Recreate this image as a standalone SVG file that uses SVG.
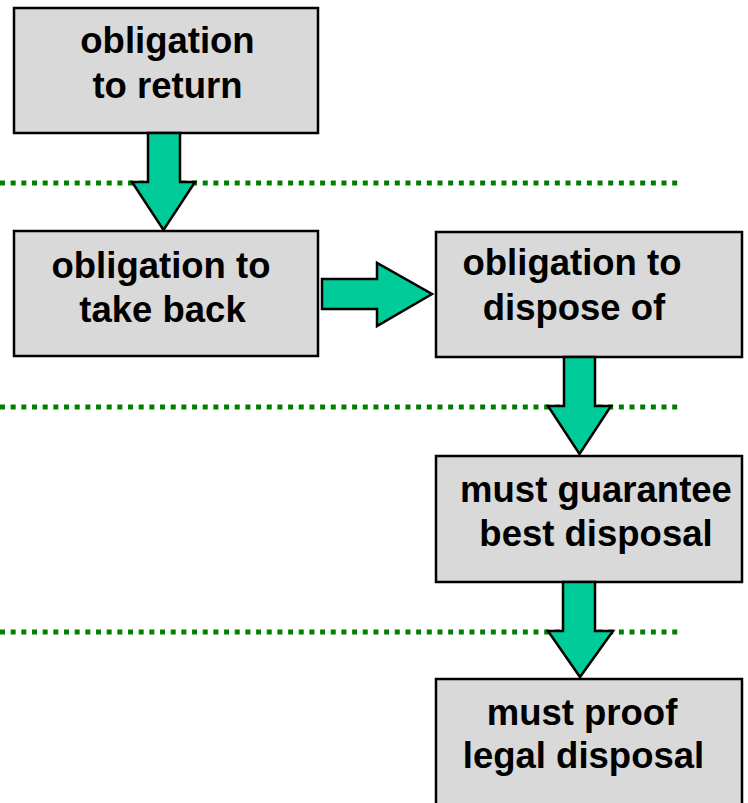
<svg xmlns="http://www.w3.org/2000/svg" width="748" height="803" viewBox="0 0 748 803">
<style>
.box{fill:#d9d9d9;stroke:#000;stroke-width:2.5}
.lbl{font-family:"Liberation Sans",Arial,sans-serif;font-weight:bold;font-size:36.5px;fill:#000;text-anchor:middle}
.dot{stroke:#008000;stroke-width:5;stroke-dasharray:5 5.67;fill:none}
.arr{fill:#00cc99;stroke:#000;stroke-width:2.5;stroke-linejoin:miter}
</style>
<rect width="748" height="803" fill="#fff"/>
<g id="separators">
<line class="dot" x1="0" y1="183" x2="680" y2="183"/>
<line class="dot" x1="0" y1="407" x2="680" y2="407"/>
<line class="dot" x1="0" y1="632" x2="680" y2="632"/>
</g>
<g id="n1"><rect class="box" x="14" y="8" width="304" height="125"/>
<text class="lbl" x="167.5" y="53">obligation</text><text class="lbl" x="167.5" y="98">to return</text></g>
<g id="n2"><rect class="box" x="14" y="231" width="304" height="125"/>
<text class="lbl" x="161" y="278">obligation to</text><text class="lbl" x="162.5" y="322">take back</text></g>
<g id="n3"><rect class="box" x="436" y="232" width="306" height="125"/>
<text class="lbl" x="572" y="275">obligation to</text><text class="lbl" x="574" y="320">dispose of</text></g>
<g id="n4"><rect class="box" x="436" y="456" width="306" height="126"/>
<text class="lbl" x="596" y="502">must guarantee</text><text class="lbl" x="596" y="546">best disposal</text></g>
<g id="n5"><rect class="box" x="436" y="679" width="306" height="130"/>
<text class="lbl" x="582" y="725">must proof</text><text class="lbl" x="583.5" y="768">legal disposal</text></g>
<g id="connectors">
<polygon class="arr" points="148,133 180,133 180,182 195,182 163.5,230 132,182 148,182"/>
<polygon class="arr" points="322,279 377,279 377,263 432,294 377,326 377,309 322,309"/>
<polygon class="arr" points="564,357 595,357 595,406 611,406 579.5,454 548,406 564,406"/>
<polygon class="arr" points="563,582 595,582 595,631 613,631 580,677 548,631 563,631"/>
</g>
</svg>
